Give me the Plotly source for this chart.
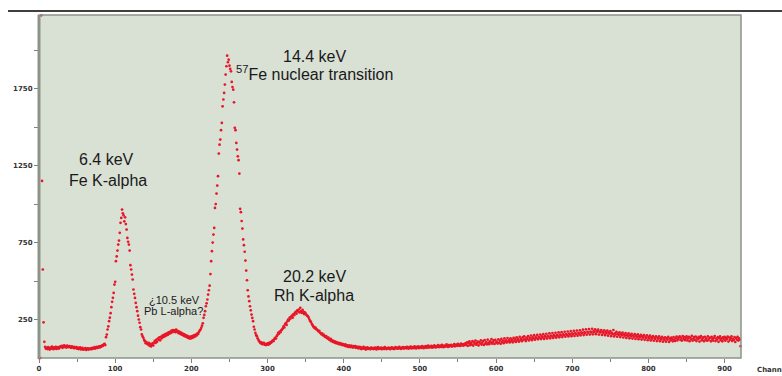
import plotly.graph_objects as go

# ---- data ----
c_000_007 = [0, 0, 0, 2226, 1150, 575, 232, 105]
c_008_087 = [72, 60, 66, 58, 70, 63, 55, 68, 61, 74, 64, 57, 69, 62, 72, 59, 66, 71, 60, 68,
             75, 70, 79, 66, 73, 82, 71, 77, 68, 80, 74, 70, 78, 72, 66, 76, 69, 73, 64, 71,
             65, 70, 60, 67, 58, 63, 69, 56, 62, 66, 54, 60, 57, 64, 52, 59, 63, 55, 61, 58,
             62, 57, 66, 60, 64, 70, 61, 68, 73, 65, 71, 76, 69, 78, 74, 82, 79, 88, 92, 84]
c_088_147 = [135, 152, 185, 205, 239, 262, 291, 330, 365, 391, 423, 477, 495, 629, 660, 698, 737, 763, 813, 878,
             910, 964, 940, 927, 888, 914, 870, 834, 780, 755, 737, 698, 603, 575, 542, 510, 445, 417, 390, 358,
             330, 304, 275, 250, 229, 200, 185, 153, 140, 131, 118, 109, 96, 104, 92, 88, 98, 80, 92, 75]
c_148_207 = [86, 95, 82, 100, 112, 98, 118, 105, 126, 120, 134, 115, 138, 128, 145, 136, 150, 140, 155, 146,
             160, 150, 166, 158, 170, 162, 178, 168, 182, 172, 180, 168, 184, 170, 176, 162, 172, 158, 166, 152,
             160, 148, 156, 142, 150, 138, 146, 132, 141, 128, 137, 126, 140, 130, 144, 135, 148, 140, 152, 146]
c_208_287 = [160, 156, 170, 178, 185, 196, 210, 225, 261, 280, 304, 336, 355, 380, 412, 440, 470, 545, 629, 694,
             750, 802, 845, 975, 1000, 1068, 1120, 1181, 1328, 1386, 1419, 1480, 1527, 1635, 1679, 1722, 1776, 1841, 1895, 1964,
             1921, 1938, 1899, 1878, 1862, 1793, 1760, 1743, 1661, 1495, 1480, 1397, 1354, 1310, 1285, 1198, 969, 947, 890, 841,
             770, 733, 690, 633, 568, 505, 440, 400, 369, 336, 310, 282, 260, 239, 203, 185, 164, 150, 142, 128]
c_288_367 = [118, 109, 104, 96, 102, 90, 94, 99, 86, 92, 84, 88, 95, 86, 98, 92, 104, 100, 109, 115,
             110, 124, 131, 126, 142, 150, 164, 158, 172, 168, 180, 185, 192, 205, 198, 218, 226, 215, 238, 250,
             244, 262, 255, 268, 275, 262, 285, 278, 293, 300, 288, 310, 302, 315, 296, 326, 305, 293, 312, 300,
             285, 297, 288, 280, 275, 271, 262, 250, 239, 235, 222, 215, 206, 200, 194, 198, 186, 185, 178, 172]
c_368_420 = [176, 164, 160, 153, 158, 146, 150, 140, 136, 142, 131, 126, 132, 120, 116, 124, 109, 114, 104, 110,
             100, 106, 96, 102, 94, 99, 90, 96, 88, 93, 84, 90, 86, 80, 88, 76, 84, 79, 72, 82,
             75, 70, 80, 73, 68, 78, 71, 77, 66, 74, 69, 63, 72]
c_421_560 = [64, 70, 58, 66, 61, 72, 60, 67, 55, 63, 69, 59, 65, 62, 57, 68, 61, 64, 58, 66,
             60, 67, 56, 63, 70, 59, 64, 61, 68, 57, 62, 66, 59, 71, 63, 58, 65, 60, 67, 62,
             57, 64, 69, 61, 66, 58, 63, 70, 62, 67, 60, 65, 72, 63, 59, 68, 64, 70, 61, 66,
             69, 63, 72, 66, 60, 70, 65, 74, 62, 68, 71, 64, 76, 67, 62, 72, 68, 75, 64, 70,
             73, 66, 78, 70, 64, 74, 69, 77, 66, 72, 80, 68, 74, 71, 79, 67, 75, 70, 82, 72,
             69, 77, 73, 84, 70, 76, 80, 72, 86, 75, 70, 81, 77, 74, 88, 79, 72, 83, 76, 80,
             85, 74, 81, 78, 90, 76, 83, 87, 79, 92, 81, 86, 78, 94, 84, 88, 80, 91, 85, 96]
c_561_720 = [84, 101, 79, 96, 108, 83, 99, 88, 110, 81, 102, 93, 113, 86, 97, 106, 82, 104, 95, 114,
             87, 99, 110, 85, 117, 94, 103, 89, 119, 98, 90, 108, 101, 122, 93, 104, 114, 91, 118, 100,
             107, 94, 121, 99, 112, 92, 124, 104, 113, 96, 127, 106, 115, 100, 130, 108, 117, 101, 128, 111,
             119, 102, 131, 112, 122, 104, 134, 115, 123, 106, 137, 117, 125, 109, 135, 119, 141, 121, 110, 133,
             124, 143, 114, 132, 126, 146, 116, 134, 128, 148, 119, 136, 130, 150, 121, 138, 132, 152, 123, 140,
             134, 155, 124, 142, 136, 157, 126, 144, 138, 160, 128, 146, 140, 162, 130, 148, 142, 164, 132, 150,
             144, 166, 134, 152, 146, 168, 136, 154, 148, 170, 138, 156, 150, 172, 140, 158, 152, 175, 142, 160,
             154, 176, 143, 162, 156, 178, 145, 164, 158, 180, 147, 166, 160, 184, 149, 168, 162, 186, 151, 170]
c_721_820 = [164, 188, 152, 172, 166, 190, 154, 174, 168, 186, 155, 175, 169, 184, 152, 172, 166, 182, 150, 170,
             162, 180, 148, 168, 160, 178, 145, 166, 158, 175, 142, 163, 155, 182, 140, 160, 152, 170, 138, 158,
             150, 167, 136, 156, 148, 165, 133, 153, 145, 162, 130, 150, 142, 160, 128, 148, 140, 157, 126, 146,
             138, 155, 124, 144, 136, 153, 122, 142, 134, 151, 120, 140, 132, 149, 118, 138, 130, 147, 116, 136,
             128, 145, 114, 134, 126, 143, 112, 132, 124, 141, 110, 131, 123, 140, 109, 129, 121, 138, 106, 128]
c_821_921 = [118, 134, 106, 128, 119, 137, 104, 126, 115, 132, 123, 108, 136, 120, 111, 129, 139, 114, 125, 133,
             140, 117, 131, 113, 143, 124, 135, 116, 130, 141, 114, 127, 138, 109, 132, 121, 144, 112, 126, 136,
             118, 139, 110, 129, 122, 137, 107, 130, 142, 115, 125, 134, 109, 138, 120, 128, 112, 141, 117, 127,
             133, 108, 137, 122, 113, 131, 143, 110, 126, 119, 135, 105, 128, 140, 116, 127, 108, 134, 121, 138,
             112, 129, 122, 139, 107, 133, 118, 127, 141, 111, 125, 117, 136, 104, 130, 120, 138, 113, 127, 119, 77]

counts = (c_000_007 + c_008_087 + c_088_147 + c_148_207 + c_208_287 + c_288_367
          + c_368_420 + c_421_560 + c_561_720 + c_721_820 + c_821_921)
channels = list(range(len(counts)))

y_tickvals = [250, 750, 1250, 1750]
y_ticktext = ["250", "750", "1250", "1750"]
y_minorvals = [500, 1000, 1500, 2000]
x_tickvals = [0, 100, 200, 300, 400, 500, 600, 700, 800, 900]
x_ticktext = ["0", "100", "200", "300", "400", "500", "600", "700", "800", "900"]
x_minorvals = [50, 150, 250, 350, 450, 550, 650, 750, 850]

# annotations: (text, channel, counts, size)
labels = [
    ("14.4 keV", 362, 1960, 16),
    ("<sup>57</sup>Fe nuclear transition", 362, 1850, 16),
    ("6.4 keV", 88, 1289, 16),
    ("Fe K-alpha", 90, 1152, 16),
    ("20.2 keV", 362, 529, 16),
    ("Rh K-alpha", 361, 406, 16),
    ("¿10.5 keV", 178, 380, 11),
    ("Pb L-alpha?", 177, 304, 11),
]

fig = go.Figure()
fig.add_trace(go.Scatter(
    x=channels, y=counts, mode="markers",
    marker=dict(size=2.7, color="rgb(232,22,40)", line=dict(width=0)),
    cliponaxis=False, showlegend=False, hoverinfo="skip"))

frame = "#8e938a"
tickc = "#7d8279"
tickfont = dict(family="DejaVu Sans", size=7, color="#333333", weight="bold")
fig.update_layout(
    template="none",
    width=782, height=376,
    margin=dict(l=39, r=41, t=15, b=18, pad=0, autoexpand=False),
    paper_bgcolor="white",
    plot_bgcolor="#d9e0d4",
    font=dict(family="Liberation Sans, Arial, sans-serif", color="#1a1a1a"),
    xaxis=dict(range=[0, 921.5], showgrid=False, zeroline=False, showline=False, automargin=False,
               tickmode="array", tickvals=x_tickvals, ticktext=x_ticktext,
               ticks="outside", ticklen=4, tickwidth=1, tickcolor=tickc,
               minor=dict(tickvals=x_minorvals, ticks="outside", ticklen=3, tickcolor=tickc, showgrid=False),
               tickfont=tickfont),
    yaxis=dict(range=[0, 2228], showgrid=False, zeroline=False, showline=False, automargin=False,
               tickmode="array", tickvals=y_tickvals, ticktext=y_ticktext,
               ticks="outside", ticklen=4, tickwidth=1, tickcolor=tickc,
               minor=dict(tickvals=y_minorvals, ticks="outside", ticklen=4, tickcolor=tickc, showgrid=False),
               tickfont=tickfont),
)

for text, cx, cy, size in labels:
    fig.add_annotation(x=cx, y=cy, xref="x", yref="y", text=text, showarrow=False,
                       xanchor="center", yanchor="middle",
                       font=dict(family="Liberation Sans, Arial, sans-serif", size=size, color="#1a1a1a"))

fig.add_annotation(x=(755 - 39) / 702, y=(358 - 370) / 343, xref="paper", yref="paper",
                   text="Channel", showarrow=False, xanchor="left", yanchor="middle",
                   font=tickfont)

# frame and top rule
fig.add_shape(type="rect", xref="paper", yref="paper", x0=0, x1=1, y0=0, y1=1,
              line=dict(color=frame, width=1.5), layer="above")
fig.add_shape(type="line", xref="paper", yref="paper", x0=0, x1=0, y0=0, y1=1,
              line=dict(color=frame, width=3), layer="above")
fig.add_shape(type="line", xref="paper", yref="paper",
              x0=-31 / 702, x1=(782 - 39) / 702, y0=1 + 4 / 343, y1=1 + 4 / 343,
              line=dict(color="black", width=1.5))

# remove the browser's default 8px body margin so the figure fills the window
fig.write_html("out.html", config={"displayModeBar": False},
               post_script="document.body.style.margin='0';document.body.style.overflow='hidden';")
